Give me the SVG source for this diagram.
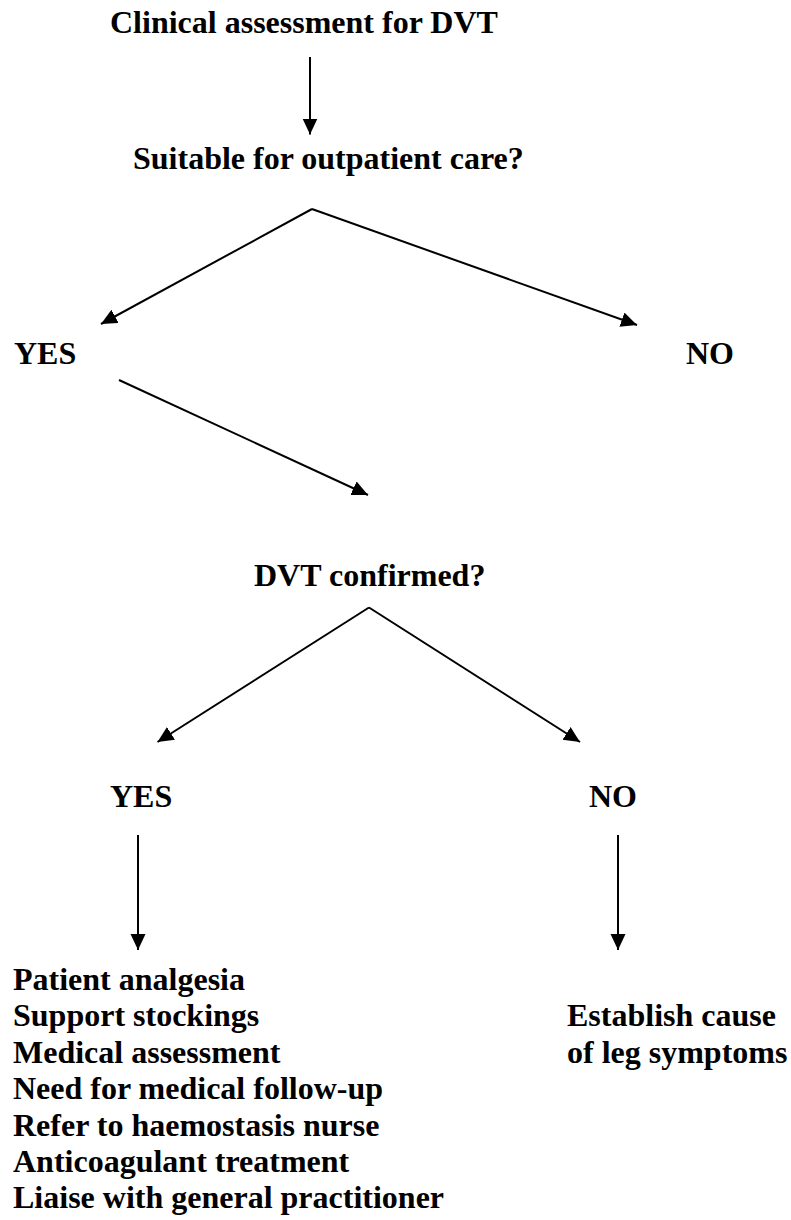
<svg xmlns="http://www.w3.org/2000/svg" width="791" height="1220" viewBox="0 0 791 1220">
  <style>
    .t { font-family: "Liberation Serif", "Times New Roman", serif; font-weight: bold; font-size: 32px; fill: #000; }
    .c { stroke: #000; stroke-width: 2; fill: none; marker-end: url(#ah); }
  </style>
  <defs>
    <marker id="ah" markerUnits="userSpaceOnUse" markerWidth="18" markerHeight="16" refX="16" refY="7.5" orient="auto">
      <path d="M0,0 L16,7.5 L0,15 Z" fill="#000"/>
    </marker>
  </defs>
  <rect width="791" height="1220" fill="#fff"/>
  <g id="connectors">
    <line class="c" x1="310" y1="57" x2="310" y2="134.5"/>
    <line class="c" x1="312" y1="209" x2="101" y2="324"/>
    <line class="c" x1="312" y1="209" x2="637" y2="325"/>
    <line class="c" x1="119" y1="380" x2="368" y2="495"/>
    <line class="c" x1="369" y1="607.5" x2="157.5" y2="742"/>
    <line class="c" x1="369" y1="607.5" x2="580" y2="742"/>
    <line class="c" x1="138" y1="835" x2="138" y2="950"/>
    <line class="c" x1="618" y1="835" x2="618" y2="950"/>
  </g>
  <g id="n-clinical"><text class="t" x="110" y="33">Clinical assessment for DVT</text></g>
  <g id="n-suitable"><text class="t" x="133" y="169">Suitable for outpatient care?</text></g>
  <g id="n-yes1"><text class="t" x="14" y="364">YES</text></g>
  <g id="n-no1"><text class="t" x="686" y="364">NO</text></g>
  <g id="n-confirmed"><text class="t" x="254" y="586">DVT confirmed?</text></g>
  <g id="n-yes2"><text class="t" x="110" y="807">YES</text></g>
  <g id="n-no2"><text class="t" x="589" y="807">NO</text></g>
  <g id="n-actions">
    <text class="t" x="13" y="990">Patient analgesia</text>
    <text class="t" x="13" y="1026.4">Support stockings</text>
    <text class="t" x="13" y="1062.8">Medical assessment</text>
    <text class="t" x="13" y="1099.2">Need for medical follow-up</text>
    <text class="t" x="13" y="1135.6">Refer to haemostasis nurse</text>
    <text class="t" x="13" y="1172">Anticoagulant treatment</text>
    <text class="t" x="13" y="1208.4">Liaise with general practitioner</text>
  </g>
  <g id="n-establish">
    <text class="t" x="567" y="1026.4">Establish cause</text>
    <text class="t" x="567" y="1062.8">of leg symptoms</text>
  </g>
</svg>
